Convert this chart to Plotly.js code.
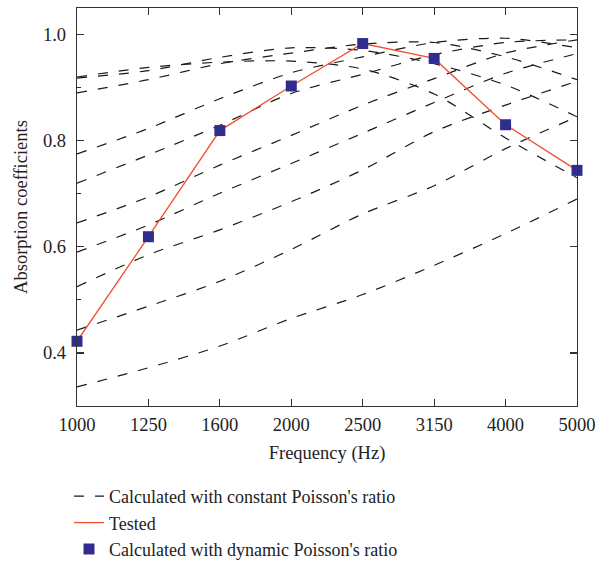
<!DOCTYPE html>
<html>
<head>
<meta charset="utf-8">
<script src="https://cdn.plot.ly/plotly-3.0.1.min.js"></script>
<style>
  html, body { margin: 0; padding: 0; background: #fff; }
  #chart { width: 598px; height: 565px; }
</style>
</head>
<body>
<div id="chart"></div>
<script>
// Frequency bands (Hz), evenly spaced on the axis
const frequencies = ['1000', '1250', '1600', '2000', '2500', '3150', '4000', '5000'];

// Absorption curves computed with a constant Poisson's ratio
const constCurve1  = [0.920, 0.938, 0.948, 0.950, 0.935, 0.888, 0.805, 0.730];
const constCurve2  = [0.918, 0.932, 0.957, 0.975, 0.970, 0.945, 0.905, 0.845];
const constCurve3  = [0.890, 0.915, 0.945, 0.965, 0.982, 0.985, 0.958, 0.915];
const constCurve4  = [0.775, 0.823, 0.879, 0.928, 0.958, 0.985, 0.993, 0.975];
const constCurve5  = [0.720, 0.773, 0.829, 0.889, 0.925, 0.962, 0.985, 0.990];
const constCurve6  = [0.645, 0.694, 0.754, 0.810, 0.867, 0.917, 0.965, 0.990];
const constCurve7  = [0.590, 0.641, 0.701, 0.757, 0.814, 0.872, 0.927, 0.964];
const constCurve8  = [0.525, 0.585, 0.632, 0.685, 0.745, 0.817, 0.867, 0.912];
const constCurve9  = [0.443, 0.488, 0.535, 0.595, 0.662, 0.715, 0.785, 0.845];
const constCurve10 = [0.336, 0.372, 0.413, 0.465, 0.510, 0.565, 0.625, 0.690];

// Measured absorption coefficients
const tested  = [0.422, 0.619, 0.819, 0.903, 0.983, 0.955, 0.830, 0.744];
// Calculated with the dynamic Poisson's ratio
const dynamic = [0.422, 0.619, 0.819, 0.903, 0.983, 0.955, 0.830, 0.744];

const constCurves = [constCurve1, constCurve2, constCurve3, constCurve4, constCurve5,
                     constCurve6, constCurve7, constCurve8, constCurve9, constCurve10];

const serif = 'Liberation Serif, Times New Roman, serif';
const traces = [];

constCurves.forEach((vals, i) => {
  traces.push({
    x: frequencies, y: vals, type: 'scatter', mode: 'lines',
    line: { color: '#1a1a1a', width: 1.2, dash: '10px,11px', shape: 'spline', smoothing: 0.8 },
    name: "Calculated with constant Poisson's ratio",
    legendgroup: 'const', showlegend: i === 0, hoverinfo: 'skip', cliponaxis: false
  });
});

traces.push({
  x: frequencies, y: tested, type: 'scatter', mode: 'lines',
  line: { color: '#f0502f', width: 1.3 },
  name: 'Tested', legendgroup: 'tested', cliponaxis: false
});

traces.push({
  x: frequencies, y: dynamic, type: 'scatter', mode: 'markers',
  marker: { symbol: 'square', size: 11, color: '#312d8e' },
  name: "Calculated with dynamic Poisson's ratio", legendgroup: 'dyn', cliponaxis: false
});

// An empty trace so the right-hand tick axis is drawn
traces.push({ x: [], y: [], yaxis: 'y2', type: 'scatter', showlegend: false, hoverinfo: 'skip' });

const axisFont = { family: serif, size: 18.5, color: '#222' };

const layout = {
  width: 598, height: 565,
  margin: { l: 77, r: 21, t: 8, b: 159 },
  paper_bgcolor: '#fff', plot_bgcolor: '#fff',
  font: { family: serif, size: 18.5, color: '#222' },
  xaxis: {
    type: 'category', range: [0, 7], automargin: false, tickangle: 0,
    showgrid: false, zeroline: false,
    showline: true, linecolor: '#333', linewidth: 1.2, mirror: 'ticks',
    ticks: 'inside', ticklen: 7, tickwidth: 1.2, tickcolor: '#333',
    tickfont: axisFont, ticklabelstandoff: 2,
    title: { text: 'Frequency (Hz)', font: axisFont, standoff: 11 }
  },
  yaxis: {
    range: [0.3, 1.05], tickvals: [0.4, 0.6, 0.8, 1.0], ticktext: ['0.4', '0.6', '0.8', '1.0'],
    automargin: false,
    showgrid: false, zeroline: false,
    showline: true, linecolor: '#333', linewidth: 1.2, mirror: true,
    ticks: 'inside', ticklen: 7, tickwidth: 1.2, tickcolor: '#333',
    minor: { tickvals: [0.3, 0.5, 0.7, 0.9], ticks: 'inside', ticklen: 4, tickwidth: 1.2, tickcolor: '#333', showgrid: false },
    tickfont: axisFont, ticklabelstandoff: 6,
    title: { text: 'Absorption coefficients', font: axisFont, standoff: 10 }
  },
  yaxis2: {
    overlaying: 'y', side: 'right', range: [0.3, 1.05], tickvals: [0.4, 0.6, 0.8, 1.0],
    automargin: false,
    showticklabels: false, showgrid: false, zeroline: false, showline: false,
    ticks: 'inside', ticklen: 7, tickwidth: 1.2, tickcolor: '#333'
  },
  showlegend: true,
  legend: {
    xref: 'paper', yref: 'container',
    x: -0.016, y: 0.154, xanchor: 'left', yanchor: 'top',
    orientation: 'v', traceorder: 'normal',
    font: { family: serif, size: 18, color: '#222' },
    bgcolor: 'rgba(0,0,0,0)'
  }
};

Plotly.newPlot('chart', traces, layout, { displayModeBar: false, staticPlot: true });
</script>
</body>
</html>
